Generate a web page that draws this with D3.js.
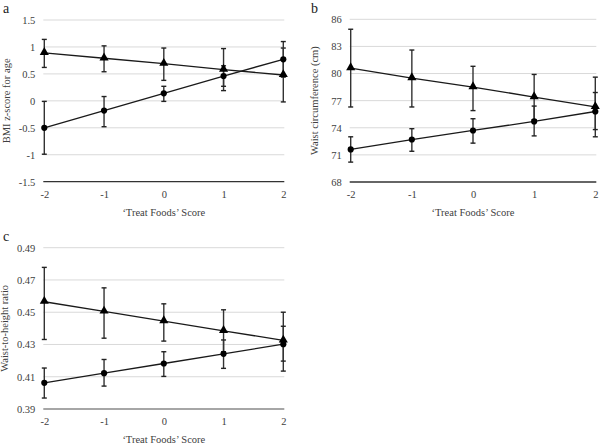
<!DOCTYPE html>
<html>
<head>
<meta charset="utf-8">
<script src="https://cdn.jsdelivr.net/npm/d3@7"></script>
<style>
  html, body { margin: 0; padding: 0; background: #fff; }
  svg { display: block; }
  svg text { font-family: "Liberation Serif", "Times New Roman", serif !important; }
</style>
</head>
<body>
<svg id="chart" width="600" height="445"></svg>
<script>
// ---- Data ----
const xCategories = [-2, -1, 0, 1, 2];
const xTickLabels = ["-2", "-1", "0", "1", "2"];
const xTitle = "\u2018Treat Foods\u2019 Score";

// Panel a: BMI z-score for age
const bmiTicks = [-1.5, -1, -0.5, 0, 0.5, 1, 1.5];
const bmiTickLabels = ["-1.5", "-1", "-0.5", "0", "0.5", "1", "1.5"];
const bmiTriangle = [0.89, 0.79, 0.69, 0.58, 0.48];
const bmiTriangleLow = [0.62, 0.54, 0.38, 0.19, -0.02];
const bmiTriangleHigh = [1.14, 1.02, 0.98, 0.97, 0.98];
const bmiCircle = [-0.50, -0.18, 0.14, 0.46, 0.77];
const bmiCircleLow = [-0.99, -0.48, -0.01, 0.27, 0.44];
const bmiCircleHigh = [-0.01, 0.08, 0.27, 0.65, 1.10];

// Panel b: Waist circumference (cm)
const waistTicks = [68, 71, 74, 77, 80, 83, 86];
const waistTickLabels = ["68", "71", "74", "77", "80", "83", "86"];
const waistTriangle = [80.6, 79.5, 78.5, 77.4, 76.3];
const waistTriangleLow = [76.3, 76.3, 75.9, 74.9, 73.0];
const waistTriangleHigh = [84.9, 82.6, 80.8, 79.9, 79.6];
const waistCircle = [71.6, 72.7, 73.7, 74.7, 75.8];
const waistCircleLow = [70.2, 71.4, 72.3, 73.1, 73.8];
const waistCircleHigh = [73.0, 73.9, 75.0, 76.4, 77.9];

// Panel c: Waist-to-height ratio
const whtrTicks = [0.39, 0.41, 0.43, 0.45, 0.47, 0.49];
const whtrTickLabels = ["0.39", "0.41", "0.43", "0.45", "0.47", "0.49"];
const whtrTriangle = [0.4565, 0.4505, 0.4445, 0.4385, 0.4325];
const whtrTriangleLow = [0.4331, 0.4339, 0.4321, 0.4255, 0.4135];
const whtrTriangleHigh = [0.4778, 0.4651, 0.4552, 0.4515, 0.4500];
const whtrCircle = [0.4062, 0.4122, 0.4182, 0.4242, 0.4302];
const whtrCircleLow = [0.3968, 0.4042, 0.4102, 0.4152, 0.4197];
const whtrCircleHigh = [0.4154, 0.4207, 0.4255, 0.4328, 0.4413];

// ---- Drawing ----
const svg = d3.select("#chart");
const FONT = "'Liberation Serif', 'Times New Roman', serif";

function drawPanel(cfg) {
  const g = svg.append("g");
  const x = d3.scalePoint().domain(xCategories).range([cfg.x0, cfg.x1]);
  const y = d3.scaleLinear().domain([cfg.ticks[0], cfg.ticks[cfg.ticks.length - 1]]).range([cfg.yBottom, cfg.yTop]);

  // gridlines
  g.append("g").selectAll("line").data(cfg.ticks.slice(1)).join("line")
    .attr("x1", cfg.x0 - 1).attr("x2", cfg.x1 + 1)
    .attr("y1", d => y(d)).attr("y2", d => y(d))
    .attr("stroke", "#d9d9d9").attr("stroke-width", 1);

  // y axis labels
  const yAxis = d3.axisLeft(y).tickValues(cfg.ticks)
    .tickFormat((d, i) => cfg.tickLabels[i]).tickSize(0).tickPadding(8);
  const ya = g.append("g").attr("transform", `translate(${cfg.x0 - 1},0)`).call(yAxis)
    .attr("font-family", FONT).attr("font-size", 10.5);
  ya.select(".domain").remove();
  ya.selectAll("text").attr("fill", "#404040");

  // x axis line
  g.append("line")
    .attr("x1", cfg.x0 - 1).attr("x2", cfg.x1 + 1)
    .attr("y1", y(cfg.ticks[0])).attr("y2", y(cfg.ticks[0]))
    .attr("stroke", cfg.axisColor).attr("stroke-width", cfg.axisWidth);

  const xAxis = d3.axisBottom(x).tickFormat((d, i) => xTickLabels[i]).tickSize(0).tickPadding(9);
  const xa = g.append("g").attr("transform", `translate(0,${y(cfg.ticks[0])})`).call(xAxis)
    .attr("font-family", FONT).attr("font-size", 10.5);
  xa.select(".domain").remove();
  xa.selectAll("text").attr("fill", "#404040");

  // x title
  g.append("text").attr("x", (cfg.x0 + cfg.x1) / 2).attr("y", y(cfg.ticks[0]) + 34)
    .attr("text-anchor", "middle").attr("font-family", FONT).attr("font-size", 10.5)
    .attr("fill", "#404040").text(xTitle);

  // y title
  g.append("text")
    .attr("transform", `translate(${cfg.yTitleX},${(cfg.yTop + cfg.yBottom) / 2}) rotate(-90)`)
    .attr("text-anchor", "middle").attr("font-family", FONT).attr("font-size", 10.5)
    .attr("fill", "#404040").text(cfg.yTitle);

  // panel letter
  g.append("text").attr("x", cfg.letterX).attr("y", cfg.letterY)
    .attr("font-family", FONT).attr("font-size", 14).attr("fill", "#222").text(cfg.letter);

  const line = d3.line().x((d, i) => x(xCategories[i])).y(d => y(d));

  cfg.series.forEach(s => {
    g.append("path").datum(s.values).attr("d", line)
      .attr("fill", "none").attr("stroke", "#1a1a1a").attr("stroke-width", 1.3);
  });

  cfg.series.forEach(s => {
    const eb = g.append("g");
    xCategories.forEach((c, i) => {
      const cx = x(c);
      eb.append("line").attr("x1", cx).attr("x2", cx)
        .attr("y1", y(s.low[i])).attr("y2", y(s.high[i]))
        .attr("stroke", "#333").attr("stroke-width", 1.4);
      [s.low[i], s.high[i]].forEach(v => {
        eb.append("line").attr("x1", cx - 2.5).attr("x2", cx + 2.5)
          .attr("y1", y(v)).attr("y2", y(v))
          .attr("stroke", "#222").attr("stroke-width", 1.4);
      });
    });
  });

  cfg.series.forEach(s => {
    const sym = d3.symbol().type(s.shape === "triangle" ? d3.symbolTriangle : d3.symbolCircle)
      .size(s.shape === "triangle" ? 36 : 30);
    g.append("g").selectAll("path").data(s.values).join("path")
      .attr("transform", (d, i) => `translate(${x(xCategories[i])},${y(d) + (s.shape === "triangle" ? -0.5 : 0)})`)
      .attr("d", sym).attr("fill", "#000");
  });
}

drawPanel({
  letter: "a", letterX: 3, letterY: 13,
  x0: 44.3, x1: 283.3, yTop: 20, yBottom: 181.7,
  ticks: bmiTicks, tickLabels: bmiTickLabels,
  yTitle: "BMI z-score for age", yTitleX: 10,
  axisColor: "#333", axisWidth: 1.3,
  series: [
    { shape: "triangle", values: bmiTriangle, low: bmiTriangleLow, high: bmiTriangleHigh },
    { shape: "circle", values: bmiCircle, low: bmiCircleLow, high: bmiCircleHigh }
  ]
});

drawPanel({
  letter: "b", letterX: 311, letterY: 13,
  x0: 350.7, x1: 595.3, yTop: 19.3, yBottom: 182,
  ticks: waistTicks, tickLabels: waistTickLabels,
  yTitle: "Waist circumference (cm)", yTitleX: 318,
  axisColor: "#333", axisWidth: 1.3,
  series: [
    { shape: "triangle", values: waistTriangle, low: waistTriangleLow, high: waistTriangleHigh },
    { shape: "circle", values: waistCircle, low: waistCircleLow, high: waistCircleHigh }
  ]
});

drawPanel({
  letter: "c", letterX: 3, letterY: 241,
  x0: 44.3, x1: 283.3, yTop: 247.7, yBottom: 409,
  ticks: whtrTicks, tickLabels: whtrTickLabels,
  yTitle: "Waist-to-height ratio", yTitleX: 8,
  axisColor: "#888", axisWidth: 1.6,
  series: [
    { shape: "triangle", values: whtrTriangle, low: whtrTriangleLow, high: whtrTriangleHigh },
    { shape: "circle", values: whtrCircle, low: whtrCircleLow, high: whtrCircleHigh }
  ]
});
</script>
</body>
</html>
